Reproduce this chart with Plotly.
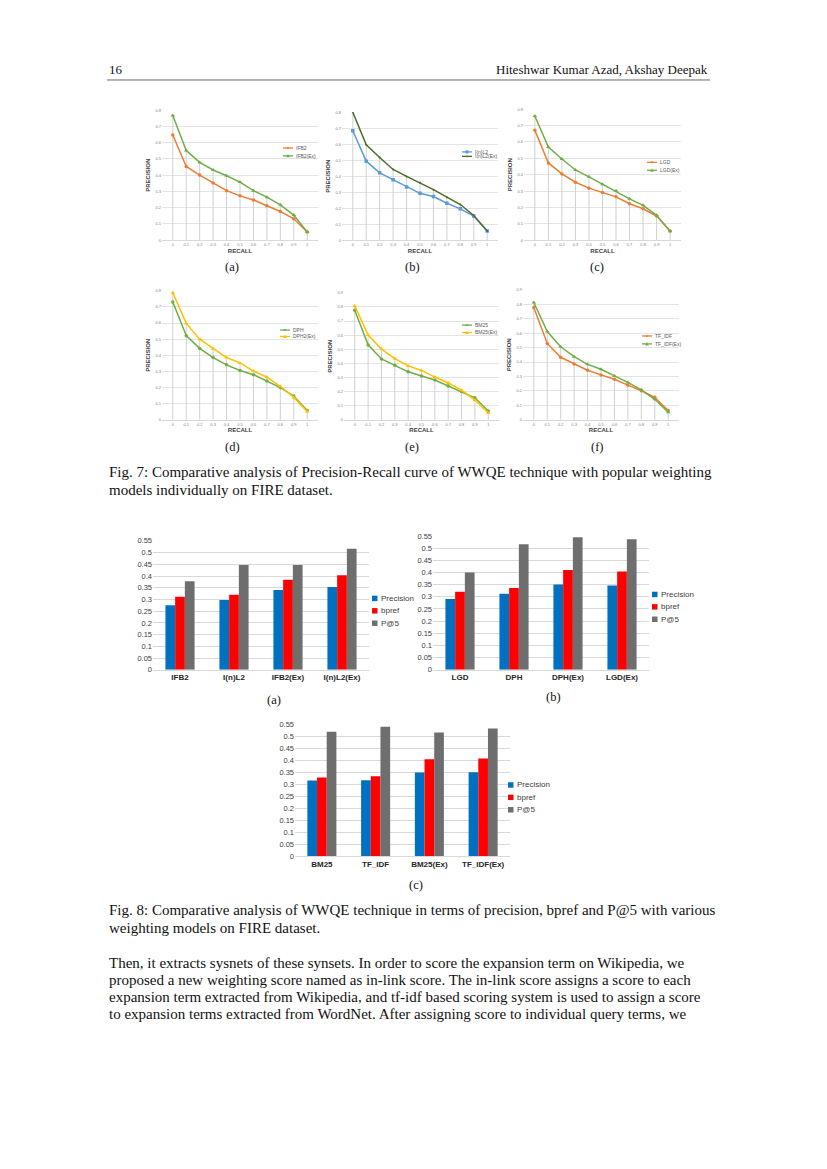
import plotly.graph_objects as go

# page body has an 8px default margin: figure is placed at (8, 8)
OFF = 8
W, H = 827 - OFF, 1169 - OFF

def px(x):
    return (x - OFF) / W

def py(y):
    return 1 - (y - OFF) / H

# ---------------- data ----------------
recall = ["0", "0.1", "0.2", "0.3", "0.4", "0.5", "0.6", "0.7", "0.8", "0.9", "1"]

ifb2 = [0.648, 0.454, 0.401, 0.352, 0.305, 0.273, 0.248, 0.212, 0.177, 0.132, 0.051]
ifb2_ex = [0.768, 0.552, 0.479, 0.432, 0.397, 0.358, 0.305, 0.265, 0.218, 0.155, 0.051]
inl2 = [0.684, 0.494, 0.421, 0.378, 0.333, 0.293, 0.273, 0.231, 0.196, 0.151, 0.058]
inl2_ex = [0.800, 0.597, 0.517, 0.442, 0.399, 0.360, 0.316, 0.269, 0.223, 0.155, 0.058]
lgd = [0.672, 0.472, 0.405, 0.354, 0.318, 0.291, 0.265, 0.223, 0.192, 0.148, 0.057]
lgd_ex = [0.759, 0.569, 0.496, 0.429, 0.387, 0.342, 0.302, 0.253, 0.213, 0.152, 0.055]
dph = [0.731, 0.522, 0.443, 0.386, 0.341, 0.306, 0.280, 0.241, 0.200, 0.147, 0.057]
dph2_ex = [0.788, 0.598, 0.500, 0.441, 0.386, 0.353, 0.302, 0.265, 0.208, 0.139, 0.051]
bm25 = [0.776, 0.531, 0.431, 0.387, 0.340, 0.310, 0.282, 0.240, 0.200, 0.156, 0.063]
bm25_ex = [0.807, 0.601, 0.501, 0.434, 0.382, 0.350, 0.303, 0.261, 0.210, 0.140, 0.049]
tfidf = [0.778, 0.529, 0.433, 0.387, 0.343, 0.311, 0.281, 0.240, 0.201, 0.156, 0.064]
tfidf_ex = [0.812, 0.611, 0.506, 0.437, 0.384, 0.350, 0.304, 0.259, 0.208, 0.142, 0.053]

models_a = ["IFB2", "I(n)L2", "IFB2(Ex)", "I(n)L2(Ex)"]
prec_a = [0.275, 0.298, 0.341, 0.353]
bpref_a = [0.312, 0.320, 0.384, 0.403]
p5_a = [0.378, 0.447, 0.447, 0.516]

models_b = ["LGD", "DPH", "DPH(Ex)", "LGD(Ex)"]
prec_b = [0.291, 0.313, 0.350, 0.346]
bpref_b = [0.321, 0.336, 0.410, 0.404]
p5_b = [0.400, 0.516, 0.545, 0.536]

models_c = ["BM25", "TF_IDF", "BM25(Ex)", "TF_IDF(Ex)"]
prec_c = [0.316, 0.317, 0.350, 0.351]
bpref_c = [0.329, 0.334, 0.405, 0.408]
p5_c = [0.520, 0.540, 0.516, 0.533]

bar_series = ["Precision", "bpref", "P@5"]

header_left = "16"
header_right = "Hiteshwar Kumar Azad, Akshay Deepak"
cap7 = ["Fig. 7: Comparative analysis of Precision-Recall curve of WWQE technique with popular weighting",
        "models individually on FIRE dataset."]
cap8 = ["Fig. 8: Comparative analysis of WWQE technique in terms of precision, bpref and P@5 with various",
        "weighting models on FIRE dataset."]
body = ["Then, it extracts sysnets of these synsets. In order to score the expansion term on Wikipedia, we",
        "proposed a new weighting score named as in-link score. The in-link score assigns a score to each",
        "expansion term extracted from Wikipedia, and tf-idf based scoring system is used to assign a score",
        "to expansion terms extracted from WordNet. After assigning score to individual query terms, we"]

# ---------------- styles ----------------
ORANGE = "#ED7D31"
GREEN = "#70AD47"
BLUE = "#5B9BD5"
DKGREEN = "#4F6B2A"
YELLOW = "#FFC000"
BAR_COLORS = ["#0070C0", "#FF0000", "#6E6E6E"]
SANS = "Liberation Sans"
SERIF = "Liberation Serif"

fig = go.Figure()
layout = dict(width=W, height=H, margin=dict(l=0, r=0, t=0, b=0),
              paper_bgcolor="white", plot_bgcolor="white", showlegend=False,
              barmode="group", bargap=0.46, bargroupgap=0)
shapes = []
annotations = []

line_specs = [
    (ifb2, ifb2_ex, "IFB2", "IFB2(Ex)", ORANGE, GREEN, "circle", "triangle-up",
     (162, 318), (107, 238), 0.8, (283, 145, 153), (232, 265), "(a)"),
    (inl2, inl2_ex, "I(n)L2", "I(n)L2(Ex)", BLUE, DKGREEN, "square", "circle",
     (342, 498), (109, 238), 0.8, (462, 149, 153.5), (412, 265), "(b)"),
    (lgd, lgd_ex, "LGD", "LGD(Ex)", ORANGE, GREEN, "circle", "triangle-up",
     (524, 681), (106, 238), 0.8, (647, 159.5, 167.5), (597, 265), "(c)"),
    (dph, dph2_ex, "DPH", "DPH2(Ex)", GREEN, YELLOW, "circle", "triangle-up",
     (162, 318), (289, 419), 0.8, (280, 328.5, 335), (232, 446), "(d)"),
    (bm25, bm25_ex, "BM25", "BM25(Ex)", GREEN, YELLOW, "circle", "triangle-up",
     (344, 499), (291, 419), 0.9, (462, 323.5, 331), (412, 446), "(e)"),
    (tfidf, tfidf_ex, "TF_IDF", "TF_IDF(Ex)", ORANGE, GREEN, "circle", "triangle-up",
     (523, 679), (288, 419), 0.9, (642, 334.5, 342.5), (597, 446), "(f)"),
]

ax = 0
for (s1, s2, n1, n2, c1, c2, m1, m2, xd, yd, ymax, lg, sl, slt) in line_specs:
    ax += 1
    xa = "x" if ax == 1 else f"x{ax}"
    ya = "y" if ax == 1 else f"y{ax}"
    dx, dy = [], []
    for c, a, b in zip(recall, s1, s2):
        dx += [c, c, None]
        dy += [0, max(a, b), None]
    fig.add_trace(go.Scatter(x=dx, y=dy, mode="lines", line=dict(color="#D0D0D0", width=1),
                             xaxis=xa, yaxis=ya, hoverinfo="skip"))
    fig.add_trace(go.Scatter(x=recall, y=s1, name=n1, mode="lines+markers",
                             line=dict(color=c1, width=1.5),
                             marker=dict(symbol=m1, size=3.5, color=c1),
                             xaxis=xa, yaxis=ya))
    fig.add_trace(go.Scatter(x=recall, y=s2, name=n2, mode="lines+markers",
                             line=dict(color=c2, width=1.5),
                             marker=dict(symbol=m2, size=4 if m2 != "circle" else 2, color=c2),
                             xaxis=xa, yaxis=ya))
    kx = "xaxis" if ax == 1 else f"xaxis{ax}"
    ky = "yaxis" if ax == 1 else f"yaxis{ax}"
    layout[kx] = dict(domain=[px(xd[0]), px(xd[1])], anchor=ya, type="category",
                      categoryorder="array", categoryarray=recall,
                      showgrid=False, showline=True, linecolor="#D9D9D9", linewidth=0.8,
                      ticks="", tickfont=dict(family=SANS, size=4, color="#7F7F7F"),
                      title=dict(text="<b>RECALL</b>", font=dict(family=SANS, size=6, color="#404040"),
                                 standoff=2),
                      fixedrange=True)
    layout[ky] = dict(domain=[py(yd[1]), py(yd[0])], anchor=xa, range=[0, ymax],
                      dtick=0.1, tick0=0, showgrid=True, gridcolor="#E4E4E4", gridwidth=0.7,
                      zeroline=False, showline=False, ticks="",
                      tickfont=dict(family=SANS, size=4, color="#7F7F7F"),
                      title=dict(text="<b>PRECISION</b>", font=dict(family=SANS, size=6, color="#404040"),
                                 standoff=4),
                      fixedrange=True)
    lx, ly1, ly2 = lg
    for (nm, col, sym, yy) in [(n1, c1, m1, ly1), (n2, c2, m2, ly2)]:
        shapes.append(dict(type="line", xref="paper", yref="paper",
                           x0=px(lx), x1=px(lx + 10), y0=py(yy), y1=py(yy),
                           line=dict(color=col, width=1.3)))
        if sym == "triangle-up":
            path = (f"M{px(lx+5-1.8)},{py(yy+1.5)} L{px(lx+5+1.8)},{py(yy+1.5)} "
                    f"L{px(lx+5)},{py(yy-1.8)} Z")
            shapes.append(dict(type="path", xref="paper", yref="paper", path=path,
                               fillcolor=col, line=dict(width=0)))
        elif sym == "square":
            shapes.append(dict(type="rect", xref="paper", yref="paper",
                               x0=px(lx + 3.5), x1=px(lx + 6.5), y0=py(yy + 1.5), y1=py(yy - 1.5),
                               fillcolor=col, line=dict(width=0)))
        else:
            shapes.append(dict(type="circle", xref="paper", yref="paper",
                               x0=px(lx + 4), x1=px(lx + 6), y0=py(yy + 1), y1=py(yy - 1),
                               fillcolor=col, line=dict(width=0)))
        annotations.append(dict(text=nm, xref="paper", yref="paper", x=px(lx + 11), y=py(yy),
                                xanchor="left", yanchor="middle", showarrow=False,
                                font=dict(family=SANS, size=5, color="#595959")))
    annotations.append(dict(text=slt, xref="paper", yref="paper", x=px(sl[0]), y=py(sl[1]),
                            xanchor="center", yanchor="middle", showarrow=False,
                            font=dict(family=SERIF, size=12.5, color="#111")))

bar_specs = [
    (models_a, [prec_a, bpref_a, p5_a], (153, 369), (541, 671), (372, 599, 611.5, 624), (274, 701), "(a)"),
    (models_b, [prec_b, bpref_b, p5_b], (433, 649), (536, 671), (652, 595, 607.5, 620), (553, 698), "(b)"),
    (models_c, [prec_c, bpref_c, p5_c], (295, 510), (726, 859), (508, 787, 799.5, 812), (416, 888), "(c)"),
]
for (cats, vals, xd, yd, lg, sl, slt) in bar_specs:
    ax += 1
    xa, ya = f"x{ax}", f"y{ax}"
    for nm, v, col in zip(bar_series, vals, BAR_COLORS):
        fig.add_trace(go.Bar(x=cats, y=v, name=nm, marker=dict(color=col, line=dict(width=0)),
                             xaxis=xa, yaxis=ya))
    layout[f"xaxis{ax}"] = dict(domain=[px(xd[0]), px(xd[1])], anchor=ya, type="category",
                                showgrid=False, showline=True, linecolor="#D9D9D9", linewidth=1,
                                ticks="", tickfont=dict(family=SANS, size=8, color="#262626",
                                                        weight="bold"),
                                fixedrange=True)
    layout[f"yaxis{ax}"] = dict(domain=[py(yd[1]), py(yd[0])], anchor=xa, range=[0, 0.55],
                                dtick=0.05, tick0=0, showgrid=True, gridcolor="#D9D9D9", gridwidth=0.8,
                                zeroline=False, showline=False, ticks="",
                                tickfont=dict(family=SANS, size=7.5, color="#404040"),
                                fixedrange=True)
    lx, l1, l2, l3 = lg
    for nm, col, yy in zip(bar_series, BAR_COLORS, [l1, l2, l3]):
        shapes.append(dict(type="rect", xref="paper", yref="paper",
                           x0=px(lx), x1=px(lx + 5.5), y0=py(yy + 2.75), y1=py(yy - 2.75),
                           fillcolor=col, line=dict(width=0)))
        annotations.append(dict(text=nm, xref="paper", yref="paper", x=px(lx + 7), y=py(yy),
                                xanchor="left", yanchor="middle", showarrow=False,
                                font=dict(family=SANS, size=8, color="#404040")))
    annotations.append(dict(text=slt, xref="paper", yref="paper", x=px(sl[0]), y=py(sl[1]),
                            xanchor="center", yanchor="middle", showarrow=False,
                            font=dict(family=SERIF, size=12.5, color="#111")))

# header
annotations.append(dict(text=header_left, xref="paper", yref="paper", x=px(107), y=py(66),
                        xanchor="left", yanchor="middle", showarrow=False,
                        font=dict(family=SERIF, size=13, color="#111")))
annotations.append(dict(text=header_right, xref="paper", yref="paper", x=px(710), y=py(66),
                        xanchor="right", yanchor="middle", showarrow=False,
                        font=dict(family=SERIF, size=13, color="#111")))
shapes.append(dict(type="line", xref="paper", yref="paper", x0=px(107), x1=px(710),
                   y0=py(76.5), y1=py(76.5), line=dict(color="#444", width=0.8)))

TEXT_SIZE = 15
for lines, ys in [(cap7, [472, 490]), (cap8, [913, 931]), (body, [966, 984, 1001, 1018])]:
    for t, yy in zip(lines, ys):
        annotations.append(dict(text=t, xref="paper", yref="paper", x=px(107), y=py(yy),
                                xanchor="left", yanchor="middle", showarrow=False,
                                font=dict(family=SERIF, size=TEXT_SIZE, color="#111")))

layout["shapes"] = shapes
layout["annotations"] = annotations
fig.update_layout(**layout)
fig.write_html("out.html")
